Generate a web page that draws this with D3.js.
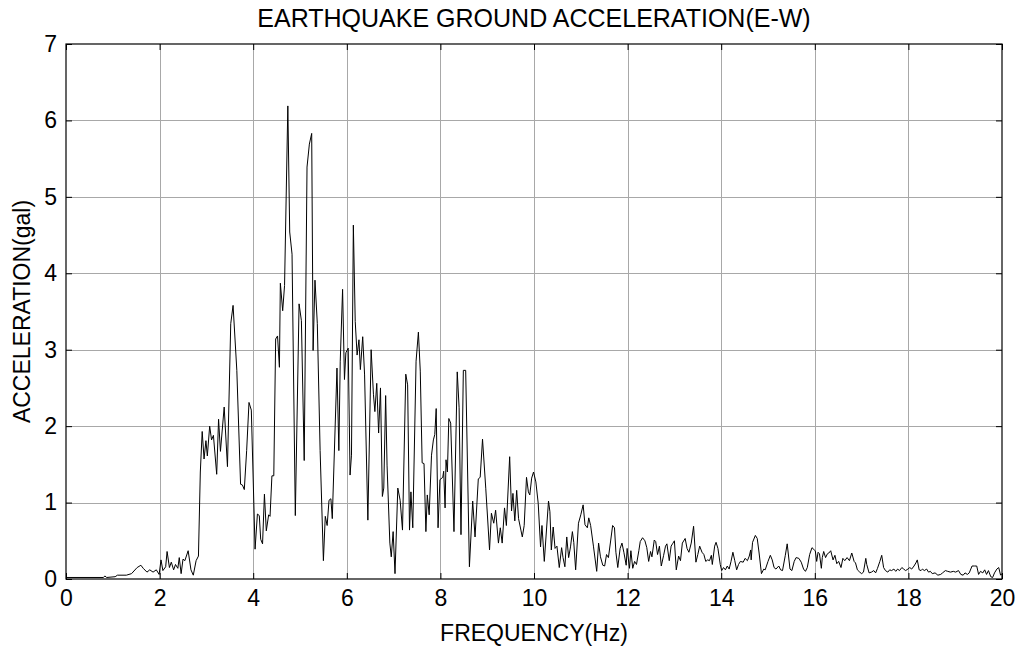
<!DOCTYPE html>
<html>
<head>
<meta charset="utf-8">
<script src="https://cdn.jsdelivr.net/npm/d3@7"></script>
<style>
  body { margin: 0; background: #fff; }
  text { font-family: "Liberation Sans", Arial, Helvetica, sans-serif; fill: #000; }
</style>
</head>
<body>
<svg id="chart" width="1019" height="648"></svg>
<script>
// Spectrum of the E-W ground acceleration: frequency (Hz) and amplitude (gal)
const freq = [
  0.00, 0.80, 0.83, 0.87, 1.05, 1.10, 1.29, 1.40, 1.52, 1.60, 1.65, 1.73, 1.79, 1.86, 1.93, 1.99,
  2.03, 2.07, 2.13, 2.16, 2.21, 2.25, 2.30, 2.34, 2.39, 2.42, 2.46, 2.50, 2.54, 2.61, 2.67, 2.72,
  2.78, 2.83, 2.87, 2.91, 2.95, 2.99, 3.02, 3.07, 3.11, 3.15, 3.22, 3.26, 3.30, 3.38, 3.45, 3.52,
  3.57, 3.65, 3.73, 3.77, 3.81, 3.86, 3.91, 3.96, 4.04, 4.09, 4.13, 4.16, 4.20, 4.24, 4.28, 4.33,
  4.36, 4.40, 4.44, 4.48, 4.52, 4.56, 4.58, 4.63, 4.67, 4.74, 4.78, 4.83, 4.90, 4.98, 5.03, 5.09,
  5.15, 5.20, 5.25, 5.28, 5.32, 5.37, 5.43, 5.50, 5.54, 5.58, 5.62, 5.66, 5.69, 5.79, 5.83, 5.86,
  5.91, 5.95, 5.98, 6.03, 6.07, 6.10, 6.14, 6.18, 6.22, 6.26, 6.29, 6.34, 6.38, 6.45, 6.52, 6.57,
  6.60, 6.64, 6.68, 6.72, 6.76, 6.79, 6.83, 6.86, 6.92, 6.95, 6.99, 7.03, 7.09, 7.14, 7.19, 7.26,
  7.30, 7.34, 7.37, 7.41, 7.48, 7.53, 7.57, 7.61, 7.65, 7.69, 7.72, 7.76, 7.81, 7.85, 7.88, 7.91,
  7.95, 7.99, 8.05, 8.07, 8.10, 8.12, 8.15, 8.18, 8.22, 8.29, 8.36, 8.40, 8.44, 8.49, 8.54, 8.62,
  8.69, 8.74, 8.81, 8.85, 8.90, 8.97, 9.05, 9.09, 9.14, 9.18, 9.24, 9.28, 9.32, 9.37, 9.41, 9.48,
  9.52, 9.55, 9.59, 9.63, 9.67, 9.72, 9.75, 9.79, 9.84, 9.88, 9.91, 9.95, 9.99, 10.04, 10.09, 10.14,
  10.17, 10.22, 10.31, 10.34, 10.37, 10.41, 10.45, 10.49, 10.54, 10.59, 10.62, 10.66, 10.70, 10.74, 10.78, 10.82,
  10.85, 10.89, 10.95, 11.00, 11.05, 11.09, 11.14, 11.17, 11.21, 11.27, 11.34, 11.38, 11.42, 11.47, 11.51, 11.55,
  11.59, 11.64, 11.68, 11.72, 11.75, 11.79, 11.84, 11.88, 11.92, 11.97, 11.99, 12.04, 12.07, 12.11, 12.15, 12.19,
  12.24, 12.27, 12.32, 12.37, 12.41, 12.45, 12.49, 12.52, 12.57, 12.60, 12.64, 12.68, 12.72, 12.77, 12.81, 12.84,
  12.89, 12.93, 12.96, 13.00, 13.04, 13.09, 13.13, 13.17, 13.23, 13.27, 13.31, 13.36, 13.41, 13.46, 13.50, 13.54,
  13.59, 13.63, 13.67, 13.71, 13.75, 13.79, 13.81, 13.86, 13.89, 13.93, 13.98, 14.01, 14.05, 14.09, 14.13, 14.17,
  14.21, 14.25, 14.29, 14.33, 14.37, 14.41, 14.47, 14.51, 14.56, 14.60, 14.63, 14.64, 14.67, 14.73, 14.77, 14.81,
  14.86, 14.91, 14.94, 15.00, 15.05, 15.09, 15.13, 15.17, 15.23, 15.27, 15.31, 15.37, 15.41, 15.47, 15.51, 15.56,
  15.60, 15.66, 15.71, 15.76, 15.80, 15.84, 15.89, 15.94, 15.99, 16.01, 16.04, 16.07, 16.10, 16.14, 16.16, 16.19,
  16.23, 16.27, 16.30, 16.34, 16.39, 16.43, 16.47, 16.51, 16.56, 16.60, 16.64, 16.69, 16.74, 16.79, 16.84, 16.87,
  16.91, 16.96, 17.00, 17.04, 17.09, 17.11, 17.16, 17.21, 17.26, 17.30, 17.34, 17.39, 17.43, 17.47, 17.51, 17.56,
  17.60, 17.64, 17.69, 17.73, 17.77, 17.81, 17.86, 17.90, 17.94, 17.99, 18.03, 18.07, 18.12, 18.16, 18.19, 18.23,
  18.27, 18.30, 18.34, 18.39, 18.43, 18.47, 18.51, 18.57, 18.63, 18.69, 18.73, 18.79, 18.84, 18.90, 18.96, 19.01,
  19.07, 19.12, 19.17, 19.21, 19.26, 19.30, 19.36, 19.41, 19.46, 19.50, 19.54, 19.59, 19.63, 19.67, 19.71, 19.76,
  19.80, 19.84, 19.89, 19.93, 19.97, 20.00
];
const accel = [
  0.02, 0.02, 0.04, 0.02, 0.03, 0.05, 0.05, 0.07, 0.15, 0.18, 0.14, 0.09, 0.12, 0.09, 0.12, 0.06,
  0.25, 0.11, 0.16, 0.36, 0.15, 0.22, 0.12, 0.19, 0.14, 0.28, 0.07, 0.26, 0.24, 0.37, 0.12, 0.05,
  0.24, 0.30, 1.40, 1.93, 1.57, 1.81, 1.61, 2.00, 1.82, 1.88, 1.37, 2.09, 1.67, 2.25, 1.47, 3.34,
  3.58, 2.73, 1.24, 1.23, 1.17, 1.68, 2.31, 2.21, 0.39, 0.85, 0.83, 0.52, 0.46, 1.11, 0.63, 0.84,
  0.82, 1.35, 1.35, 3.14, 3.18, 2.77, 3.87, 3.51, 3.84, 6.19, 4.54, 4.25, 0.83, 3.60, 3.38, 1.55,
  5.39, 5.69, 5.83, 2.99, 3.91, 3.34, 1.68, 0.24, 0.82, 0.70, 1.03, 1.05, 0.79, 2.76, 1.68, 2.85,
  3.79, 2.61, 2.96, 3.02, 1.36, 1.62, 4.63, 3.37, 2.93, 3.13, 2.74, 3.17, 2.67, 0.77, 3.00, 2.41,
  2.19, 2.56, 1.91, 2.50, 1.08, 1.19, 2.40, 1.49, 0.47, 0.29, 0.62, 0.07, 1.19, 1.03, 0.64, 2.68,
  2.54, 0.64, 1.14, 0.67, 2.85, 3.23, 2.72, 1.52, 1.51, 0.62, 1.10, 0.84, 1.62, 1.82, 1.89, 2.23,
  0.67, 1.30, 1.33, 1.41, 0.93, 1.56, 1.40, 2.10, 2.04, 0.62, 2.71, 2.24, 0.58, 2.73, 2.73, 0.16,
  1.02, 0.55, 1.31, 1.33, 1.83, 1.18, 0.38, 0.86, 0.73, 0.90, 0.47, 0.67, 0.47, 0.93, 0.70, 1.60,
  0.89, 1.12, 0.76, 1.16, 0.79, 0.64, 0.55, 0.70, 1.33, 1.14, 1.10, 1.32, 1.40, 1.27, 0.99, 0.42,
  0.70, 0.23, 1.02, 0.88, 0.38, 0.68, 0.40, 0.43, 0.15, 0.41, 0.28, 0.16, 0.55, 0.28, 0.42, 0.62,
  0.48, 0.12, 0.73, 0.84, 0.97, 0.71, 0.67, 0.80, 0.70, 0.43, 0.10, 0.47, 0.29, 0.18, 0.17, 0.32,
  0.28, 0.51, 0.70, 0.67, 0.35, 0.15, 0.40, 0.47, 0.35, 0.18, 0.40, 0.14, 0.37, 0.14, 0.23, 0.19,
  0.37, 0.49, 0.54, 0.50, 0.41, 0.23, 0.36, 0.29, 0.51, 0.49, 0.32, 0.43, 0.17, 0.31, 0.43, 0.46,
  0.24, 0.43, 0.46, 0.50, 0.12, 0.30, 0.24, 0.47, 0.53, 0.40, 0.35, 0.47, 0.69, 0.22, 0.32, 0.43,
  0.35, 0.32, 0.23, 0.25, 0.24, 0.31, 0.19, 0.43, 0.48, 0.40, 0.19, 0.11, 0.15, 0.12, 0.17, 0.13,
  0.23, 0.35, 0.24, 0.12, 0.19, 0.23, 0.22, 0.27, 0.24, 0.30, 0.38, 0.25, 0.48, 0.57, 0.53, 0.34,
  0.07, 0.13, 0.12, 0.23, 0.31, 0.25, 0.15, 0.13, 0.17, 0.12, 0.11, 0.31, 0.46, 0.13, 0.11, 0.23,
  0.28, 0.27, 0.22, 0.13, 0.10, 0.15, 0.32, 0.41, 0.38, 0.37, 0.23, 0.35, 0.33, 0.14, 0.28, 0.36,
  0.28, 0.33, 0.34, 0.37, 0.25, 0.31, 0.20, 0.23, 0.15, 0.27, 0.24, 0.28, 0.24, 0.34, 0.23, 0.21,
  0.12, 0.09, 0.07, 0.09, 0.27, 0.19, 0.08, 0.09, 0.11, 0.08, 0.14, 0.23, 0.31, 0.15, 0.11, 0.09,
  0.12, 0.11, 0.13, 0.10, 0.13, 0.11, 0.15, 0.13, 0.11, 0.13, 0.15, 0.13, 0.17, 0.21, 0.25, 0.12,
  0.11, 0.13, 0.11, 0.13, 0.09, 0.10, 0.07, 0.08, 0.05, 0.06, 0.08, 0.11, 0.10, 0.09, 0.10, 0.09,
  0.11, 0.06, 0.05, 0.08, 0.06, 0.08, 0.17, 0.17, 0.17, 0.06, 0.10, 0.08, 0.12, 0.06, 0.11, 0.03,
  0.02, 0.08, 0.13, 0.15, 0.05, 0.07
];

const xTicks = [0, 2, 4, 6, 8, 10, 12, 14, 16, 18, 20];
const yTicks = [0, 1, 2, 3, 4, 5, 6, 7];
const titleText = "EARTHQUAKE GROUND ACCELERATION(E-W)";
const xLabelText = "FREQUENCY(Hz)";
const yLabelText = "ACCELERATION(gal)";

const svg = d3.select("#chart");
const W = 1019, H = 648;
const plot = { left: 66, right: 1002, top: 44, bottom: 579 };

svg.append("rect").attr("width", W).attr("height", H).attr("fill", "#fff");

const x = d3.scaleLinear().domain([0, 20]).range([plot.left, plot.right]);
const y = d3.scaleLinear().domain([0, 7]).range([plot.bottom, plot.top]);

// grid
const grid = svg.append("g").attr("stroke", "#a8a8a8").attr("stroke-width", 1);
grid.selectAll("line.gx").data(xTicks.slice(1, -1)).join("line")
  .attr("x1", d => Math.round(x(d)) + 0.5).attr("x2", d => Math.round(x(d)) + 0.5)
  .attr("y1", plot.top).attr("y2", plot.bottom);
grid.selectAll("line.gy").data(yTicks.slice(1, -1)).join("line")
  .attr("y1", d => Math.round(y(d)) + 0.5).attr("y2", d => Math.round(y(d)) + 0.5)
  .attr("x1", plot.left).attr("x2", plot.right);

// spectrum line
const pts = freq.map((f, i) => [f, accel[i]]);
svg.append("path")
  .datum(pts)
  .attr("fill", "none")
  .attr("stroke", "#000")
  .attr("stroke-width", 1)
  .attr("stroke-linejoin", "round")
  .attr("d", d3.line().x(d => x(d[0])).y(d => y(d[1])));

// axes with inward ticks on all four sides
const tl = 6;
const tickFont = 23;
svg.append("g").attr("transform", `translate(0,${plot.bottom})`)
  .call(d3.axisBottom(x).tickValues(xTicks).tickSizeInner(-tl).tickSizeOuter(0).tickPadding(11).tickFormat(d3.format("d")));
svg.append("g").attr("transform", `translate(0,${plot.top})`)
  .call(d3.axisTop(x).tickValues(xTicks).tickSizeInner(-tl).tickSizeOuter(0).tickFormat(""));
svg.append("g").attr("transform", `translate(${plot.left},0)`)
  .call(d3.axisLeft(y).tickValues(yTicks).tickSizeInner(-tl).tickSizeOuter(0).tickPadding(9).tickFormat(d3.format("d")));
svg.append("g").attr("transform", `translate(${plot.right},0)`)
  .call(d3.axisRight(y).tickValues(yTicks).tickSizeInner(-tl).tickSizeOuter(0).tickFormat(""));

svg.selectAll(".domain").remove();
svg.selectAll(".tick line").attr("stroke", "#000");
svg.selectAll(".tick text").attr("font-size", tickFont).attr("font-family", "'Liberation Sans', Arial, sans-serif").attr("fill", "#000");

// frame
svg.append("rect")
  .attr("x", plot.left).attr("y", plot.top)
  .attr("width", plot.right - plot.left).attr("height", plot.bottom - plot.top)
  .attr("fill", "none").attr("stroke", "#000").attr("stroke-width", 1.2);

// titles
svg.append("text").attr("x", (plot.left + plot.right) / 2).attr("y", 27)
  .attr("text-anchor", "middle").attr("font-size", 25).text(titleText);
svg.append("text").attr("x", (plot.left + plot.right) / 2).attr("y", 641)
  .attr("text-anchor", "middle").attr("font-size", 23).text(xLabelText);
svg.append("text")
  .attr("transform", `translate(30,${(plot.top + plot.bottom) / 2}) rotate(-90)`)
  .attr("text-anchor", "middle").attr("font-size", 23).text(yLabelText);
</script>
</body>
</html>
